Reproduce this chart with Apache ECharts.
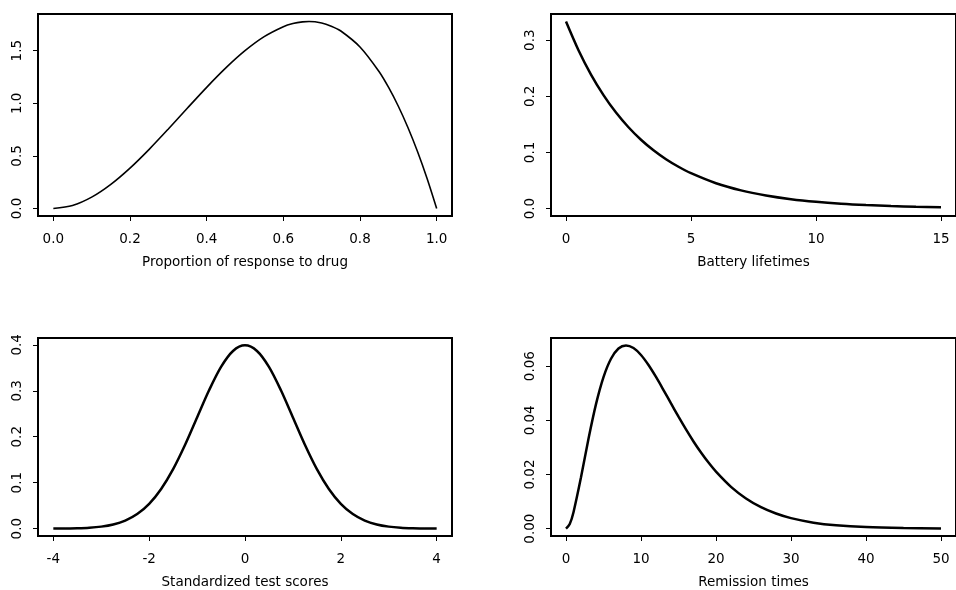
<!DOCTYPE html>
<html>
<head>
<meta charset="utf-8">
<script src="https://cdn.jsdelivr.net/npm/echarts@6/dist/echarts.min.js"></script>
<style>html,body{margin:0;padding:0;background:#fff}#c{width:956px;height:590px}</style>
</head>
<body>
<div id="c"></div>
<script>
// Panel 1: Proportion of response to drug
const drugX = [0,0.05,0.1,0.15,0.2,0.25,0.3,0.35,0.4,0.45,0.5,0.55,0.6,0.625,0.65,0.667,0.7,0.725,0.75,0.8,0.85,0.875,0.9,0.925,0.95,0.975,1.0];
const drugY = [0,0.0285,0.108,0.2295,0.384,0.5625,0.756,0.9555,1.152,1.3365,1.5,1.6335,1.728,1.7578,1.7745,1.778,1.764,1.7335,1.6875,1.536,1.3005,1.1484,0.972,0.7701,0.5415,0.2852,0];
const drugXTicks = [0,0.2,0.4,0.6,0.8,1.0];
const drugXLabels = ["0.0","0.2","0.4","0.6","0.8","1.0"];
const drugYTicks = [0,0.5,1.0,1.5];
const drugYLabels = ["0.0","0.5","1.0","1.5"];

// Panel 2: Battery lifetimes
const batX = [0,0.5,1,1.5,2,2.5,3,3.5,4,4.5,5,6,7,8,9,10,11,12,13,14,15];
const batY = [0.3333,0.2822,0.2388,0.2022,0.1711,0.1449,0.1226,0.1038,0.0879,0.0744,0.0630,0.0451,0.0323,0.0232,0.0166,0.0119,0.0085,0.0061,0.0044,0.0031,0.0022];
const batXTicks = [0,5,10,15];
const batXLabels = ["0","5","10","15"];
const batYTicks = [0,0.1,0.2,0.3];
const batYLabels = ["0.0","0.1","0.2","0.3"];

// Panel 3: Standardized test scores
const scoreX = [-4,-3.75,-3.5,-3.25,-3,-2.75,-2.5,-2.25,-2,-1.75,-1.5,-1.25,-1,-0.75,-0.5,-0.25,0,0.25,0.5,0.75,1,1.25,1.5,1.75,2,2.25,2.5,2.75,3,3.25,3.5,3.75,4];
const scoreY = [0.0001,0.0004,0.0009,0.0020,0.0044,0.0091,0.0175,0.0317,0.0540,0.0863,0.1295,0.1826,0.2420,0.3011,0.3521,0.3867,0.3989,0.3867,0.3521,0.3011,0.2420,0.1826,0.1295,0.0863,0.0540,0.0317,0.0175,0.0091,0.0044,0.0020,0.0009,0.0004,0.0001];
const scoreXTicks = [-4,-2,0,2,4];
const scoreXLabels = ["-4","-2","0","2","4"];
const scoreYTicks = [0,0.1,0.2,0.3,0.4];
const scoreYLabels = ["0.0","0.1","0.2","0.3","0.4"];

// Panel 4: Remission times
const remX = [0,0.5,1,2,3,4,5,6,7,8,9,10,11,12,13,14,15,16,17,18,19,20,22,24,26,28,30,33,36,40,45,50];
const remY = [0,0.00172,0.00608,0.01895,0.03321,0.04598,0.05596,0.06275,0.06653,0.06767,0.06670,0.06413,0.06043,0.05601,0.05119,0.04624,0.04134,0.03663,0.03220,0.02812,0.02440,0.02106,0.01545,0.01116,0.00794,0.00559,0.00389,0.00222,0.00125,0.00057,0.00021,0.00007];
const remXTicks = [0,10,20,30,40,50];
const remXLabels = ["0","10","20","30","40","50"];
const remYTicks = [0,0.02,0.04,0.06];
const remYLabels = ["0.00","0.02","0.04","0.06"];

const titles = ["Proportion of response to drug","Battery lifetimes","Standardized test scores","Remission times"];

const FONT = 'DejaVu Sans';
const FS = 13.5;
function pairs(xs, ys){ return xs.map((x,i)=>[x, ys[i]]); }
function lab(ticks, labels){ return v => { let i = ticks.findIndex(t => Math.abs(t - v) < 1e-9); return i >= 0 ? labels[i] : ''; }; }

function xAx(g, min, max, ticks, labels, name){
  return {
    type:'value', gridIndex:g, min:min, max:max,
    splitLine:{show:false}, axisLine:{show:false, onZero:false},
    axisTick:{show:true, length:5, customValues:ticks, lineStyle:{color:'#000', width:1}},
    axisLabel:{customValues:ticks, formatter:lab(ticks,labels), color:'#000', fontFamily:FONT, fontSize:FS, margin:16},
    name:name, nameLocation:'middle', nameGap:39,
    nameTextStyle:{color:'#000', fontFamily:FONT, fontSize:FS}
  };
}
function yAx(g, min, max, ticks, labels){
  return {
    type:'value', gridIndex:g, min:min, max:max,
    splitLine:{show:false}, axisLine:{show:false, onZero:false},
    axisTick:{show:true, length:5, customValues:ticks, lineStyle:{color:'#000', width:1}},
    axisLabel:{customValues:ticks, formatter:lab(ticks,labels), color:'#000', fontFamily:FONT, fontSize:FS, margin:14, rotate:90}
  };
}
function ser(i, xs, ys, w){
  return {type:'line', xAxisIndex:i, yAxisIndex:i, data:pairs(xs,ys), showSymbol:false, symbol:'none', smooth:0.3,
    lineStyle:{color:'#000', width:w}};
}
const gridStyle = {show:true, borderColor:'#000', borderWidth:2, backgroundColor:'transparent'};

const chart = echarts.init(document.getElementById('c'), null, {renderer:'canvas'});
chart.setOption({
  backgroundColor:'#fff',
  animation:false,
  grid:[
    Object.assign({left:38, top:14, width:414, height:202}, gridStyle),
    Object.assign({left:551, top:14, width:413, height:202}, gridStyle),
    Object.assign({left:38, top:338, width:414, height:202}, gridStyle),
    Object.assign({left:551, top:338, width:413, height:202}, gridStyle)
  ],
  xAxis:[
    xAx(0, -0.04, 1.04, drugXTicks, drugXLabels, titles[0]),
    xAx(1, -0.6, 15.6, batXTicks, batXLabels, titles[1]),
    xAx(2, -4.32, 4.32, scoreXTicks, scoreXLabels, titles[2]),
    xAx(3, -2, 52, remXTicks, remXLabels, titles[3])
  ],
  yAxis:[
    yAx(0, -0.0711, 1.849, drugYTicks, drugYLabels),
    yAx(1, -0.01333, 0.3467, batYTicks, batYLabels),
    yAx(2, -0.016, 0.4149, scoreYTicks, scoreYLabels),
    yAx(3, -0.00271, 0.0704, remYTicks, remYLabels)
  ],
  series:[
    ser(0, drugX, drugY, 1.6),
    ser(1, batX, batY, 2.5),
    ser(2, scoreX, scoreY, 2.5),
    ser(3, remX, remY, 2.5)
  ]
});
</script>
</body>
</html>
